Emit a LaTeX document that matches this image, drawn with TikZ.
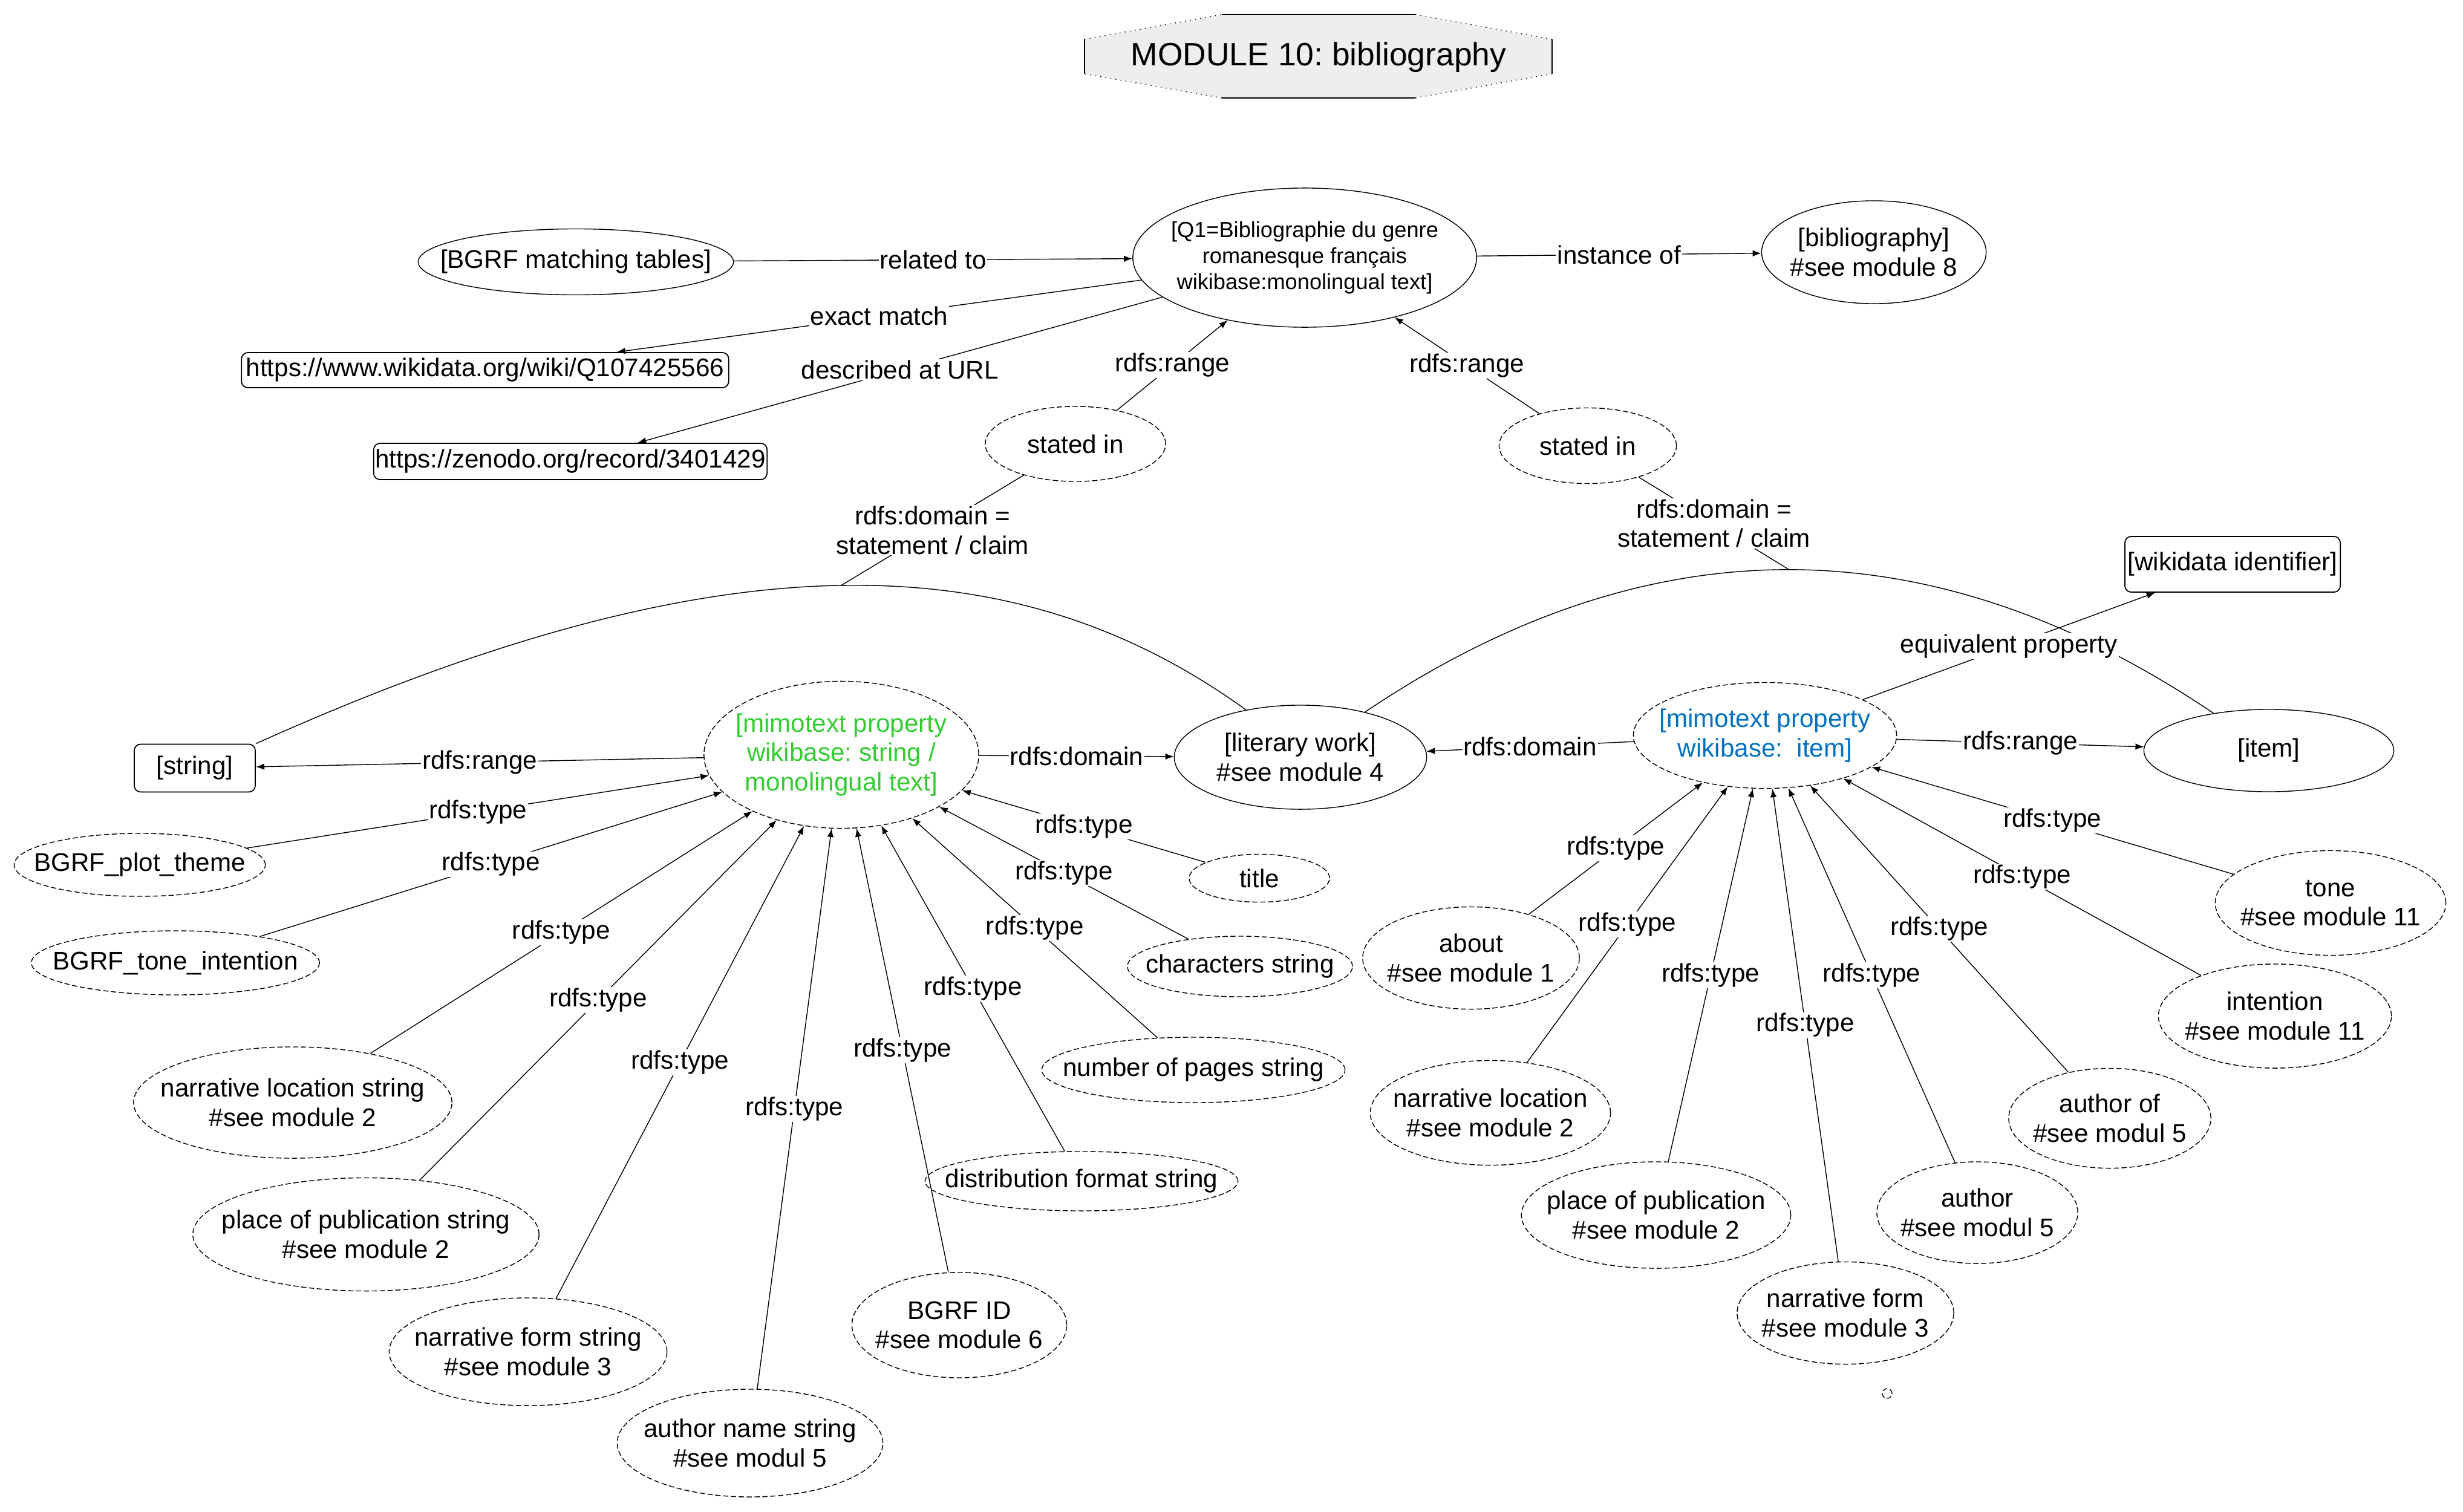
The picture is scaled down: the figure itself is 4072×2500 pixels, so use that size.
\documentclass[tikz,border=0pt]{standalone}
\usepackage{fontspec}
\setmainfont{Liberation Sans}
\frenchspacing
\usetikzlibrary{arrows.meta,shapes.geometric,positioning}
\definecolor{myGreen}{RGB}{51,204,51}
\definecolor{myBlue}{RGB}{0,112,192}
\definecolor{myGray}{RGB}{238,238,238}
\tikzset{
myTitle/.style={
	inner sep=0pt,
	font=\fontsize{15.2}{18}\selectfont
}
, myNode/.style={
	ellipse,draw,line width=0.4pt,
	inner xsep=-1cm,inner ysep=-1cm,align=center,
	font=\fontsize{12}{13.8}\selectfont
}
, myProp/.style={
	myNode,dash pattern=on 2.5pt off 1.2pt
}
, myBox/.style={
	rectangle,draw,rounded corners=3pt,line width=0.5pt,
	inner sep=0pt,align=center,
	font=\fontsize{12}{13.8}\selectfont
}
, myLabel/.style={
	fill=white,inner sep=0.5pt,align=center,
	font=\fontsize{12}{13.8}\selectfont
}
% link
, myLink/.style={-{Latex[length=4pt,width=3pt]},line width=0.4pt}
, myLine/.style={line width=0.4pt}
}

\begin{document}
\begin{tikzpicture}[x=0.01cm,y=-0.01cm]
	\useasboundingbox (0,0) rectangle (4072,2500);
	% header
	\fill[myGray] (1793,65) -- (2020,24) -- (2340,24) -- (2566,65) -- (2566,122)
		-- (2340,162) -- (2020,162) -- (1793,122) -- cycle;
	\draw (2020,24) -- (2340,24) (2020,162) -- (2340,162) (1793,65) -- (1793,122) (2566,65) -- (2566,122);
	\draw[dotted] (1793,65) -- (2020,24) (2340,24) -- (2566,65) (2566,122) -- (2340,162) (2020,162) -- (1793,122);
	\node[myTitle] (Header) at (2180,95) {MODULE 10: bibliography};

	% nodes
	\node[myNode,font=\fontsize{10.3}{12.3}\selectfont,minimum width=5.68cm,minimum height=2.30cm] (Q1) at (2157,426)
		{[Q1=Bibliographie du genre\\romanesque français\\wikibase:monolingual text]};
	\node[myNode,minimum width=5.21cm,minimum height=1.09cm] (BgrfTables) at (952,433) {[BGRF matching tables]};
	\node[myNode,minimum width=3.71cm,minimum height=1.70cm] (Bib) at (3098,417) {[bibliography]\\\#see module 8};
	\node[myBox,minimum width=8.05cm,minimum height=0.58cm] (Wikidata) at (802,612) {https://www.wikidata.org/wiki/Q107425566};
	\node[myBox,minimum width=6.50cm,minimum height=0.60cm] (Zenodo) at (943,763) {https://zenodo.org/record/3401429};
	\node[myProp,minimum width=2.98cm,minimum height=1.24cm] (StatedL) at (1778,734) {stated in};
	\node[myProp,minimum width=2.93cm,minimum height=1.25cm] (StatedR) at (2625,737) {stated in};

	\node[myBox,minimum width=2.00cm,minimum height=0.79cm] (String) at (322,1270) {[string]};
	\node[myProp,text=myGreen,minimum width=4.54cm,minimum height=2.43cm] (PropString) at (1391,1248)
		{[mimotext property\\wikibase: string /\\monolingual text]};
	\node[myNode,minimum width=4.17cm,minimum height=1.72cm] (LitWork) at (2150,1252) {[literary work]\\\#see module 4};
	\node[myProp,text=myBlue,minimum width=4.35cm,minimum height=1.75cm] (PropItem) at (2918,1216)
		{[mimotext property\\wikibase:\ \ item]};
	\node[myNode,minimum width=4.13cm,minimum height=1.36cm] (Item) at (3751,1241) {[item]};
	\node[myBox,minimum width=3.56cm,minimum height=0.92cm] (WikidataId) at (3691,933) {[wikidata identifier]};

	% string properties
	\node[myProp,minimum width=2.32cm,minimum height=0.79cm] (TitleStr) at (2082,1452) {title};
	\node[myProp,minimum width=3.72cm,minimum height=1.00cm] (CharStr) at (2050,1598) {characters string};
	\node[myProp,minimum width=5.01cm,minimum height=1.08cm] (PagesStr) at (1973,1769) {number of pages string};
	\node[myProp,minimum width=5.17cm,minimum height=0.98cm] (DistStr) at (1788,1953) {distribution format string};
	\node[myProp,minimum width=3.55cm,minimum height=1.74cm] (BgrfId) at (1586,2191) {BGRF ID\\\#see module 6};
	\node[myProp,minimum width=4.39cm,minimum height=1.78cm] (AuthorStr) at (1240,2386) {author name string\\\#see modul 5};
	\node[myProp,minimum width=4.59cm,minimum height=1.78cm] (FormStr) at (873,2235) {narrative form string\\\#see module 3};
	\node[myProp,minimum width=5.72cm,minimum height=1.87cm] (PlaceStr) at (605,2041) {place of publication string\\\#see module 2};
	\node[myProp,minimum width=5.26cm,minimum height=1.84cm] (LocStr) at (484,1823) {narrative location string\\\#see module 2};
	\node[myProp,minimum width=4.76cm,minimum height=1.06cm] (ToneInt) at (290,1592) {BGRF\_tone\_intention};
	\node[myProp,minimum width=4.15cm,minimum height=1.04cm] (PlotTheme) at (231,1430) {BGRF\_plot\_theme};

	% item properties
	\node[myProp,minimum width=3.58cm,minimum height=1.69cm] (About) at (2432,1584) {about\\\#see module 1};
	\node[myProp,minimum width=3.97cm,minimum height=1.73cm] (Loc) at (2464,1840) {narrative location\\\#see module 2};
	\node[myProp,minimum width=4.45cm,minimum height=1.76cm] (Place) at (2738,2009) {place of publication\\\#see module 2};
	\node[myProp,minimum width=3.58cm,minimum height=1.69cm] (Form) at (3051,2171) {narrative form\\\#see module 3};
	\node[myProp,minimum width=3.32cm,minimum height=1.68cm] (Author) at (3269,2005) {author\\\#see modul 5};
	\node[myProp,minimum width=3.34cm,minimum height=1.65cm] (AuthorOf) at (3488,1849) {author of\\\#see modul 5};
	\node[myProp,minimum width=3.85cm,minimum height=1.72cm] (Intention) at (3761,1680) {intention\\\#see module 11};
	\node[myProp,minimum width=3.81cm,minimum height=1.73cm] (Tone) at (3853,1493) {tone\\\#see module 11};

	\node[draw,circle,dash pattern=on 2.3pt off 1.2pt,minimum size=0.16cm,inner sep=0pt] (Dot) at (3120,2304) {};

	% links
	\draw[myLink] (BgrfTables) -- node[myLabel] {related to} (Q1);
	\draw[myLink] (Q1) -- node[myLabel] {instance of} (Bib);
	\draw[myLink] (Q1) -- node[myLabel] {exact match} (Wikidata);
	\draw[myLink] (Q1) -- node[myLabel] {described at URL} (Zenodo);
	\draw[myLink] (StatedL) -- node[myLabel] {rdfs:range} (Q1);
	\draw[myLink] (StatedR) -- node[myLabel] {rdfs:range} (Q1);

	% statements
	\draw[myLine] (String.north east) .. controls (1200,880) and (1681,900) .. (LitWork.139) coordinate[pos=0.5] (StmtL);
	\draw[myLine] (LitWork.35) .. controls (2724,863) and (3191,863) .. (Item.146) coordinate[pos=0.5] (StmtR);
	\draw[myLine] (StatedL) -- node[myLabel] {rdfs:domain =\\statement / claim} (StmtL);
	\draw[myLine] (StatedR) -- node[myLabel] {rdfs:domain =\\statement / claim} (StmtR);

	\draw[myLink] (PropString) -- node[myLabel] {rdfs:range} (String);
	\draw[myLink] (PropString) -- node[myLabel] {rdfs:domain} (LitWork);
	\draw[myLink] (PropItem) -- node[myLabel] {rdfs:domain} (LitWork);
	\draw[myLink] (PropItem) -- node[myLabel] {rdfs:range} (Item);
	\draw[myLink] (PropItem) -- node[myLabel] {equivalent property} (WikidataId);

	\foreach \leaf in {TitleStr,CharStr,PagesStr,DistStr,BgrfId,AuthorStr,FormStr,PlaceStr,LocStr,ToneInt,PlotTheme}
		\draw[myLink] (\leaf) -- node[myLabel] {rdfs:type} (PropString);
	\foreach \leaf in {About,Loc,Place,Form,Author,AuthorOf,Intention,Tone}
		\draw[myLink] (\leaf) -- node[myLabel] {rdfs:type} (PropItem);
\end{tikzpicture}
\end{document}
